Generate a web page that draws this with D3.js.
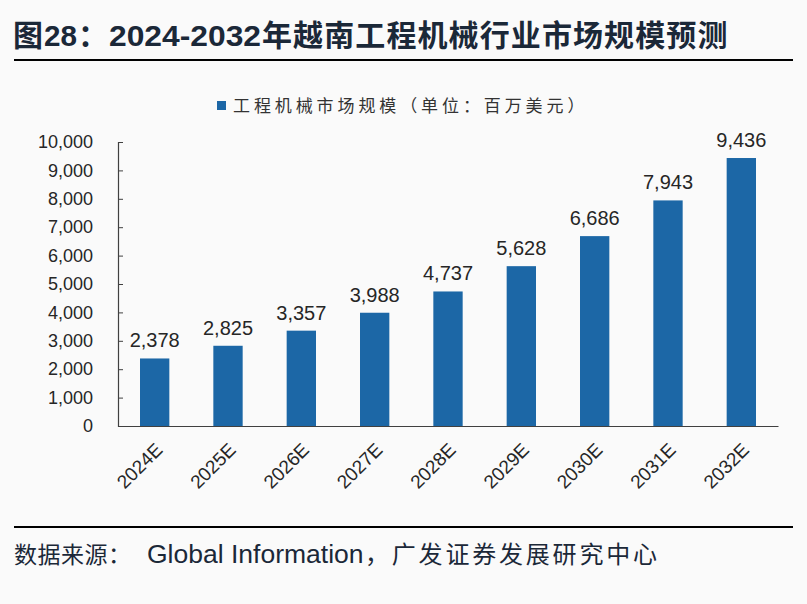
<!DOCTYPE html>
<html><head><meta charset="utf-8">
<script src="https://cdn.jsdelivr.net/npm/d3@7"></script>
<style>
html,body{margin:0;padding:0;background:#fafafa;}
svg{display:block;}
</style></head>
<body>
<svg id="c" width="807" height="604"></svg>
<script>
const categories = ["2024E","2025E","2026E","2027E","2028E","2029E","2030E","2031E","2032E"];
const values = [2378, 2825, 3357, 3988, 4737, 5628, 6686, 7943, 9436];
const yTicks = [0,1000,2000,3000,4000,5000,6000,7000,8000,9000,10000];
const seriesName = "工程机械市场规模（单位：百万美元）";
const titleParts = ["图", "28", "：", "2024-2032", "年越南工程机械行业市场规模预测"];
const sourceParts = ["数据来源：", "Global Information", "，广发证券发展研究中心"];

(function(){
const svg = d3.select("#c");
const W = 807, H = 604;
svg.append("rect").attr("width",W).attr("height",H).attr("fill","#fafafa");

const cjk = "'Noto Sans CJK SC', sans-serif";
const latin = "'Liberation Sans', Arial, 'Noto Sans CJK SC', sans-serif";
const titleColor = "#1b2838";

// Title
const t = svg.append("text").attr("y",46).attr("fill",titleColor).attr("font-size",30);
t.append("tspan").attr("x",13).attr("font-family",cjk).attr("font-weight","bold").text(titleParts[0]);
t.append("tspan").attr("x",44).attr("font-family",latin).attr("font-weight","bold")
  .attr("textLength",33).attr("lengthAdjust","spacingAndGlyphs").text(titleParts[1]);
t.append("tspan").attr("x",78).attr("font-family",cjk).attr("font-weight","bold").text(titleParts[2]);
t.append("tspan").attr("x",109).attr("font-family",latin).attr("font-weight","bold")
  .attr("textLength",152).attr("lengthAdjust","spacingAndGlyphs").text(titleParts[3]);
t.append("tspan").attr("x",262).attr("font-family",cjk).attr("font-weight","bold")
  .attr("letter-spacing",1.1).text(titleParts[4]);
svg.append("line").attr("x1",14).attr("x2",793).attr("y1",60).attr("y2",60)
  .attr("stroke","#000").attr("stroke-width",2.2);

// Footer
svg.append("line").attr("x1",14).attr("x2",793).attr("y1",527).attr("y2",527)
  .attr("stroke","#000").attr("stroke-width",2.2);
const s = svg.append("text").attr("y",563).attr("fill",titleColor);
s.append("tspan").attr("x",14).attr("font-family",cjk).attr("font-size",23).attr("letter-spacing",0.5).text(sourceParts[0]);
s.append("tspan").attr("x",147).attr("font-family",latin).attr("font-size",26.5).text(sourceParts[1]);
s.append("tspan").attr("x",365).attr("font-family",cjk).attr("font-size",24).attr("letter-spacing",2.8).text(sourceParts[2]);

// Plot
const pL = 118, pR = 778, pT = 142, pB = 426;
const x = d3.scaleBand().domain(categories).range([pL,pR]).paddingInner(0.6).paddingOuter(0.3);
const y = d3.scaleLinear().domain([0,10000]).range([pB,pT]);

const barColor = "#1c67a6";

// Legend
svg.append("rect").attr("x",217).attr("y",101).attr("width",9).attr("height",9).attr("fill",barColor);
svg.append("text").attr("x",233).attr("y",112)
  .attr("font-family",cjk).attr("font-size",17).attr("fill","#333")
  .attr("letter-spacing",3.9)
  .text(seriesName);

// Bars
svg.selectAll("rect.bar").data(values).enter().append("rect")
  .attr("class","bar")
  .attr("x",(d,i)=>x(categories[i]))
  .attr("width",x.bandwidth())
  .attr("y",d=>y(d))
  .attr("height",d=>pB-y(d))
  .attr("fill",barColor);

// Value labels
const fmt = d3.format(",");
svg.selectAll("text.val").data(values).enter().append("text")
  .attr("class","val")
  .attr("x",(d,i)=>x(categories[i])+x.bandwidth()/2)
  .attr("y",d=>y(d)-11)
  .attr("text-anchor","middle")
  .attr("font-family",latin).attr("font-size",20).attr("fill","#262626")
  .text(d=>fmt(d));

// Y axis
const yAxis = d3.axisLeft(y).tickValues(yTicks).tickSize(-5).tickPadding(25).tickFormat(d=>fmt(d));
const gy = svg.append("g").attr("transform",`translate(${pL},0)`).call(yAxis);
gy.select(".domain").attr("stroke","#404040").attr("stroke-width",1.2);
gy.selectAll(".tick line").attr("stroke","#404040");
gy.selectAll(".tick text").attr("font-family",latin).attr("font-size",18).attr("fill","#262626");

// X axis
const xAxis = d3.axisBottom(x).tickSize(0).tickPadding(0);
const gx = svg.append("g").attr("transform",`translate(0,${pB})`).call(xAxis);
gx.select(".domain").attr("stroke","#404040").attr("stroke-width",1.2);
gx.selectAll(".tick text")
  .attr("font-family",latin).attr("font-size",19).attr("fill","#262626")
  .attr("text-anchor","end")
  .attr("dy",null).attr("y",0)
  .attr("transform","translate(9,25) rotate(-45)");
})();
</script>
</body></html>
